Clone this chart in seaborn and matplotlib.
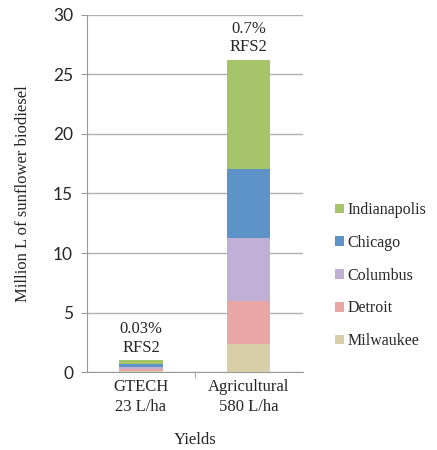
import matplotlib
matplotlib.use("Agg")
import matplotlib.pyplot as plt
import seaborn as sns
import pandas as pd
import numpy as np
from matplotlib.patches import Patch

categories = ["GTECH\n23 L/ha", "Agricultural\n580 L/ha"]
cities = ["Milwaukee", "Detroit", "Columbus", "Chicago", "Indianapolis"]
milwaukee = [0.095, 2.4]
detroit = [0.14, 3.6]
columbus = [0.21, 5.3]
chicago = [0.23, 5.75]
indianapolis = [0.37, 9.2]
labels = ["0.03%\nRFS2", "0.7%\nRFS2"]
colors = {"Milwaukee": "#D8CFA8", "Detroit": "#E8A6A4", "Columbus": "#C1B0D6",
          "Chicago": "#5E93C8", "Indianapolis": "#A6C46A"}

series = {"Milwaukee": milwaukee, "Detroit": detroit, "Columbus": columbus,
          "Chicago": chicago, "Indianapolis": indianapolis}

sns.set_style("white")
serif = "Liberation Serif"
fs = 12

fig = plt.figure(figsize=(4.37, 4.5), dpi=100)
ax = fig.add_axes([0.199, 0.173, 0.494, 0.794])

cum = np.zeros(2)
cums = {}
for c in cities:
    cum = cum + np.array(series[c])
    cums[c] = cum.copy()

for c in reversed(cities):
    df = pd.DataFrame({"cat": categories, "val": cums[c]})
    sns.barplot(data=df, x="cat", y="val", color=colors[c], width=0.4,
                saturation=1, ax=ax, zorder=3, edgecolor="none")

for i, (lab, tot) in enumerate(zip(labels, cums["Indianapolis"])):
    ax.text(i, tot + 0.35, lab, ha="center", va="bottom", fontfamily=serif,
            fontsize=fs, linespacing=1.2)

ax.set_ylim(0, 30)
ax.set_xlim(-0.5, 1.5)
ax.set_yticks(range(0, 31, 5))
ax.yaxis.grid(True, color="#b0b0b0", linewidth=1, zorder=0)
ax.set_axisbelow(True)
for s in ["top", "right"]:
    ax.spines[s].set_visible(False)
for s in ["left", "bottom"]:
    ax.spines[s].set_color("#999999")
ax.tick_params(axis="y", length=4, color="#999999", left=True, labelsize=12.5, pad=6)
ax.tick_params(axis="x", length=0, labelsize=fs, pad=5)
for t in ax.get_yticklabels():
    t.set_fontfamily("Lato")
ax.set_xticks([0, 1])
ax.set_xticklabels(categories, fontfamily=serif, fontsize=fs, linespacing=1.35)
ax.set_xlabel("Yields", fontfamily=serif, fontsize=fs, labelpad=12)
ax.set_ylabel("Million L of sunflower biodiesel", fontfamily=serif, fontsize=fs, labelpad=16)
ax.set_xticks([0.5], minor=True)
ax.tick_params(axis="x", which="minor", length=4, color="#999999", bottom=True)

handles = [Patch(facecolor=colors[c], edgecolor="none") for c in reversed(cities)]
fig.legend(handles, list(reversed(cities)), loc="upper left",
           bbox_to_anchor=(0.753, 0.565), frameon=False,
           prop={"family": serif, "size": 11.5}, handlelength=0.55, handleheight=0.55,
           handletextpad=0.2, labelspacing=1.05, borderaxespad=0)

fig.savefig("out.png", dpi=100)
